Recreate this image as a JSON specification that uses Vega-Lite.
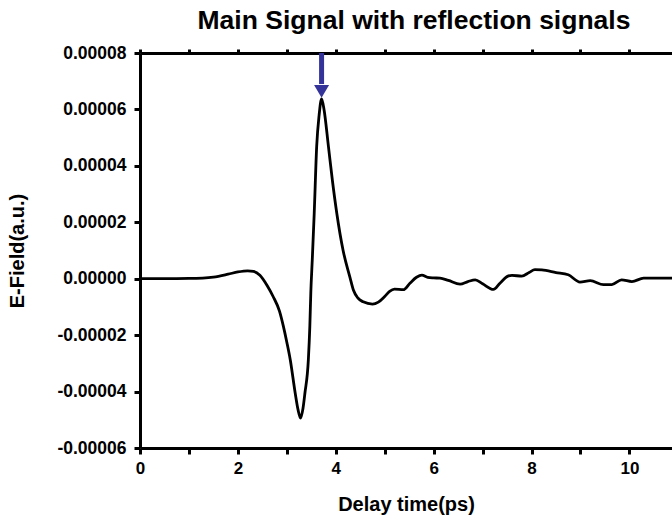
{
  "$schema": "https://vega.github.io/schema/vega-lite/v6.json",
  "width": 532,
  "height": 395,
  "autosize": "none",
  "padding": {"left": 140, "top": 53, "right": 0, "bottom": 72},
  "background": "white",
  "config": {
    "view": {"stroke": null},
    "font": "Liberation Sans",
    "axis": {
      "labelFont": "Liberation Sans",
      "labelFontWeight": "bold",
      "labelColor": "black",
      "titleFont": "Liberation Sans",
      "titleFontWeight": "bold",
      "titleColor": "black",
      "domainColor": "black",
      "domainWidth": 3,
      "tickColor": "black",
      "tickWidth": 3,
      "tickSize": 6,
      "grid": false
    }
  },
  "title": {
    "text": "Main Signal with reflection signals",
    "font": "Liberation Sans",
    "fontSize": 26.5,
    "fontWeight": "bold",
    "color": "black",
    "anchor": "middle",
    "dx": 8,
    "offset": 10
  },
  "layer": [
    {
      "data": {
        "values": [
          {"t": 0, "e": 0},
          {"t": 0.5, "e": 0},
          {"t": 1.0, "e": 0.0000001},
          {"t": 1.5, "e": 0.0000006},
          {"t": 1.8, "e": 0.0000016},
          {"t": 2.0, "e": 0.0000024},
          {"t": 2.2, "e": 0.0000028},
          {"t": 2.32, "e": 0.0000026},
          {"t": 2.45, "e": 0.0000012},
          {"t": 2.6, "e": -0.0000025},
          {"t": 2.72, "e": -0.0000063},
          {"t": 2.85, "e": -0.0000115},
          {"t": 2.93, "e": -0.0000169},
          {"t": 3.0, "e": -0.0000225},
          {"t": 3.07, "e": -0.0000287},
          {"t": 3.17, "e": -0.0000404},
          {"t": 3.23, "e": -0.0000465},
          {"t": 3.28, "e": -0.0000494},
          {"t": 3.33, "e": -0.000046},
          {"t": 3.37, "e": -0.0000405},
          {"t": 3.44, "e": -0.0000287},
          {"t": 3.47, "e": -0.0000169},
          {"t": 3.49, "e": -0.000005},
          {"t": 3.52, "e": 0.0000067},
          {"t": 3.56, "e": 0.0000233},
          {"t": 3.61, "e": 0.0000469},
          {"t": 3.66, "e": 0.000058},
          {"t": 3.71, "e": 0.0000637},
          {"t": 3.76, "e": 0.00006},
          {"t": 3.85, "e": 0.0000469},
          {"t": 3.93, "e": 0.000035},
          {"t": 4.02, "e": 0.0000233},
          {"t": 4.15, "e": 0.00001},
          {"t": 4.29, "e": 0.0000005},
          {"t": 4.36, "e": -0.000004},
          {"t": 4.45, "e": -0.0000068},
          {"t": 4.56, "e": -0.0000082},
          {"t": 4.75, "e": -0.000009},
          {"t": 4.87, "e": -0.0000083},
          {"t": 5.0, "e": -0.0000063},
          {"t": 5.1, "e": -0.0000045},
          {"t": 5.2, "e": -0.0000037},
          {"t": 5.38, "e": -0.0000039},
          {"t": 5.52, "e": -0.0000015},
          {"t": 5.65, "e": 0.0000005},
          {"t": 5.76, "e": 0.0000013},
          {"t": 5.88, "e": 0.0000005},
          {"t": 6.0, "e": 0.0000003},
          {"t": 6.13, "e": 0.0000002},
          {"t": 6.3, "e": -0.0000006},
          {"t": 6.54, "e": -0.0000019},
          {"t": 6.7, "e": -0.000001},
          {"t": 6.85, "e": -0.0000004},
          {"t": 7.0, "e": -0.0000018},
          {"t": 7.22, "e": -0.0000038},
          {"t": 7.36, "e": -0.0000015},
          {"t": 7.53, "e": 0.000001},
          {"t": 7.6, "e": 0.0000012},
          {"t": 7.8, "e": 0.0000009},
          {"t": 7.95, "e": 0.0000022},
          {"t": 8.07, "e": 0.0000032},
          {"t": 8.21, "e": 0.0000031},
          {"t": 8.5, "e": 0.0000022},
          {"t": 8.75, "e": 0.0000014},
          {"t": 8.99, "e": -0.0000012},
          {"t": 9.2, "e": -0.0000007},
          {"t": 9.47, "e": -0.0000021},
          {"t": 9.64, "e": -0.0000021},
          {"t": 9.84, "e": -0.0000004},
          {"t": 10.05, "e": -0.000001},
          {"t": 10.29, "e": 0.0000002},
          {"t": 11.0, "e": 0.0000002}
        ]
      },
      "mark": {"type": "line", "color": "black", "strokeWidth": 2.8, "interpolate": "monotone", "clip": true},
      "encoding": {
        "x": {
          "field": "t",
          "type": "quantitative",
          "scale": {"domain": [0, 10.87], "nice": false},
          "axis": {
            "orient": "bottom",
            "title": "Delay time(ps)",
            "titleFontSize": 20,
            "titlePadding": 18,
            "labelFontSize": 17,
            "labelPadding": 6,
            "values": [0, 1, 2, 3, 4, 5, 6, 7, 8, 9, 10],
            "labelExpr": "datum.value % 2 == 0 ? datum.label : ''",
            "labelFlush": false,
            "labelOverlap": false
          }
        },
        "y": {
          "field": "e",
          "type": "quantitative",
          "title": "E-Field(a.u.)",
          "scale": {"domain": [-0.00006, 0.00008], "nice": false, "zero": false},
          "axis": {
            "titleFontSize": 20,
            "titlePadding": 29,
            "labelFontSize": 17.5,
            "labelPadding": 8,
            "values": [-0.00006, -0.00005, -0.00004, -0.00003, -0.00002, -0.00001, 0, 0.00001, 0.00002, 0.00003, 0.00004, 0.00005, 0.00006, 0.00007, 0.00008],
            "labelExpr": "abs(round(datum.value*100000)) % 2 == 1 ? '' : replace(format(datum.value, '.5f'), '\u2212', '-')",
            "labelFlush": false,
            "labelOverlap": false
          }
        }
      }
    },
    {
      "data": {"values": [{"t": 3.71, "top": 0.00008, "bottom": 0.000069}]},
      "mark": {"type": "rule", "color": "#333399", "strokeWidth": 5},
      "encoding": {
        "x": {
          "field": "t",
          "type": "quantitative",
          "scale": {"domain": [0, 10.87], "nice": false},
          "axis": {
            "orient": "top",
            "title": null,
            "labels": false,
            "tickSize": 4,
            "values": [0, 1, 2, 3, 4, 5, 6, 7, 8, 9, 10]
          }
        },
        "y": {"field": "top", "type": "quantitative", "title": "E-Field(a.u.)"},
        "y2": {"field": "bottom"}
      }
    },
    {
      "data": {"values": [{"t": 3.71, "e": 0.0000664}]},
      "mark": {"type": "point", "shape": "triangle-down", "filled": true, "size": 225, "color": "#333399", "opacity": 1},
      "encoding": {
        "x": {
          "field": "t",
          "type": "quantitative",
          "scale": {"domain": [0, 10.87], "nice": false},
          "axis": null
        },
        "y": {"field": "e", "type": "quantitative", "title": "E-Field(a.u.)"}
      }
    }
  ],
  "resolve": {"scale": {"x": "independent"}, "axis": {"x": "independent"}}
}
